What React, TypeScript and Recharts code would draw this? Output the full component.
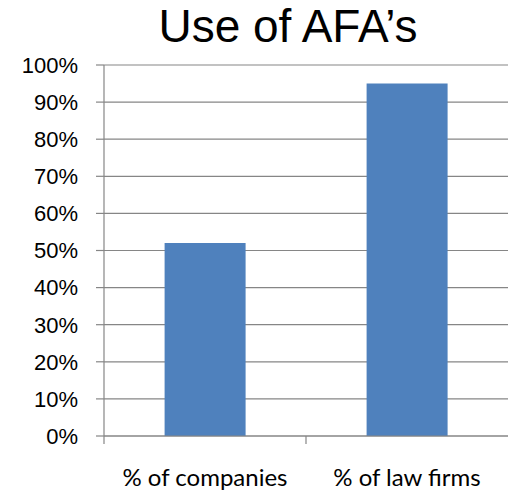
import React from "react";
import { BarChart, Bar, XAxis, YAxis, CartesianGrid } from "recharts";

const categories = ["% of companies", "% of law firms"];
const values = [0.52, 0.95];
const yTicks = [0, 0.1, 0.2, 0.3, 0.4, 0.5, 0.6, 0.7, 0.8, 0.9, 1.0];
const title = "Use of AFA\u2019s";

const data = categories.map((c, i) => ({ name: c, value: values[i] }));

const W = 508;
const H = 491;
const LEFT = 104;
const GRID = "#868686";

const XTick = (props: any) => {
  const { x, y, payload } = props;
  const half = (W - LEFT) / categories.length / 2;
  return (
    <g>
      <line x1={x - half} x2={x - half} y1={y - 8} y2={y} stroke={GRID} strokeWidth={1.2} />
      <text
        x={x}
        y={y + 42}
        textAnchor="middle"
        fontFamily="Lato, 'Open Sans', sans-serif"
        fontSize={24}
        fill="#000"
      >
        {payload.value}
      </text>
    </g>
  );
};

export default function App() {
  return (
    <div style={{ position: "absolute", left: 0, top: 0, width: W, height: H, background: "#fff" }}>
      <div
        style={{
          position: "absolute",
          left: 0,
          top: 0,
          width: W,
          textAlign: "center",
          paddingLeft: 68,
          boxSizing: "border-box",
          fontFamily: "'Liberation Sans', Arial, sans-serif",
          fontSize: 46,
          lineHeight: "52px",
          color: "#000",
        }}
      >
        {title}
      </div>
      <BarChart
        width={W}
        height={H}
        data={data}
        margin={{ top: 65, right: 0, bottom: 0, left: 0 }}
        barCategoryGap="30%"
      >
        <CartesianGrid vertical={false} stroke={GRID} strokeWidth={1.2} />
        <XAxis
          dataKey="name"
          axisLine={{ stroke: GRID, strokeWidth: 1.2 }}
          tickLine={false}
          tick={<XTick />}
          interval={0}
          height={55}
        />
        <YAxis
          domain={[0, 1]}
          ticks={yTicks}
          interval={0}
          width={LEFT}
          tickFormatter={(v: number) => `${Math.round(v * 100)}%`}
          axisLine={{ stroke: GRID, strokeWidth: 1.2 }}
          tickLine={{ stroke: GRID, strokeWidth: 1.2 }}
          tickSize={8}
          tickMargin={18}
          tick={{ fill: "#000", fontSize: 22, fontFamily: "'Liberation Sans', Arial, sans-serif" }}
        />
        <Bar dataKey="value" fill="#4F81BD" isAnimationActive={false} />
      </BarChart>
    </div>
  );
}
